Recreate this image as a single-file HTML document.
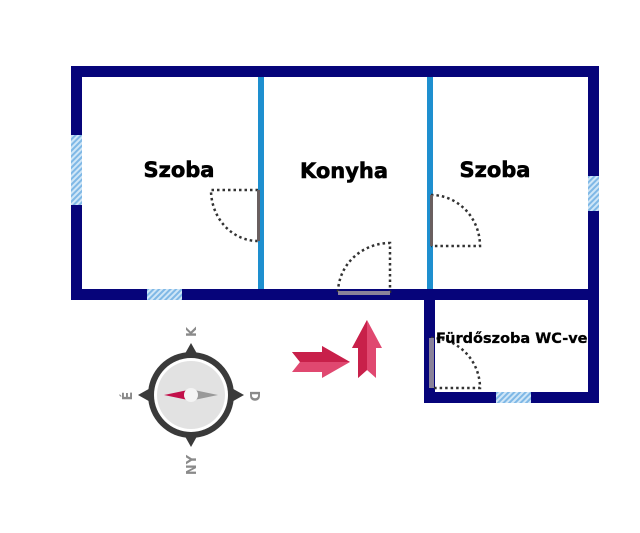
<!DOCTYPE html>
<html><head><meta charset="utf-8"><style>
html,body{margin:0;padding:0;background:#fff;}
svg{display:block;}
text{font-family:"DejaVu Sans","Liberation Sans",sans-serif;font-weight:bold;}
</style></head><body>
<svg width="640" height="533" viewBox="0 0 640 533" xmlns="http://www.w3.org/2000/svg">
<defs>
<pattern id="h" width="4" height="4" patternUnits="userSpaceOnUse" patternTransform="rotate(45)">
<rect width="4" height="4" fill="#cfe6f7"/><rect width="2" height="4" fill="#7fb8e6"/>
</pattern>
</defs>
<rect x="258" y="72" width="6" height="222" fill="#1e8fcf"/>
<rect x="427" y="72" width="6" height="222" fill="#1e8fcf"/>
<g fill="#06047a">
<rect x="71" y="66" width="528" height="11" rx="3"/>
<rect x="71" y="66" width="11" height="234"/>
<rect x="588" y="66" width="11" height="337"/>
<rect x="71" y="289" width="528" height="11"/>
<rect x="424" y="289" width="11" height="114"/>
<rect x="424" y="392" width="175" height="11"/>
</g>
<rect x="71" y="135" width="11" height="70" fill="url(#h)"/>
<rect x="588" y="176" width="11" height="35" fill="url(#h)"/>
<rect x="147" y="289" width="35" height="11" fill="url(#h)"/>
<rect x="496" y="392" width="35" height="11" fill="url(#h)"/>
<g fill="none" stroke="#333" stroke-width="2.5" stroke-dasharray="2.5,3">
<path d="M258 190 H211 A47 51 0 0 0 258 241"/>
<path d="M390 293 V243 A52 50 0 0 0 338 293"/>
<path d="M431 195 A49 51 0 0 1 480 246 H431"/>
<path d="M431 338 A49 50 0 0 1 480 388 H431"/>
</g>
<rect x="257" y="190" width="3" height="51" fill="#6a5f5f"/>
<rect x="338" y="291" width="52" height="4" fill="#8a8299"/>
<rect x="430" y="195" width="3" height="51" fill="#6a5f5f"/>
<rect x="429" y="338" width="5" height="50" fill="#8a8299"/>
<g stroke="#000" stroke-width="0.6">
<text x="179" y="177" font-size="21" text-anchor="middle">Szoba</text>
<text x="344" y="178" font-size="21" text-anchor="middle">Konyha</text>
<text x="495" y="177" font-size="21" text-anchor="middle">Szoba</text>
</g>
<svg x="435" y="320" width="153" height="40"><text x="1" y="23" font-size="14.5" stroke="#000" stroke-width="0.3">Fürdőszoba WC-vel</text></svg>
<g transform="translate(191,395)">
<polygon points="0,-52 9,-36 -9,-36" fill="#3a3a3a"/>
<polygon points="0,52 9,36 -9,36" fill="#3a3a3a"/>
<polygon points="-53,0 -37,9 -37,-9" fill="#3a3a3a"/>
<polygon points="53,0 37,9 37,-9" fill="#3a3a3a"/>
<circle r="43" fill="#3a3a3a"/>
<circle r="37" fill="#fff"/>
<circle r="34" fill="#e2e2e2"/>
<polygon points="-27,0 -3,-5 -3,5" fill="#c2104a"/>
<polygon points="27,0 3,-5 3,5" fill="#999"/>
<circle r="7" fill="#f4f4f4"/>
</g>
<g fill="#8a8a8a" font-size="13">
<text transform="translate(196,332) rotate(-90)" text-anchor="middle">K</text>
<text transform="translate(132,396) rotate(-90)" text-anchor="middle">É</text>
<text transform="translate(250,396) rotate(90)" text-anchor="middle">D</text>
<text transform="translate(196,465) rotate(-90)" text-anchor="middle">NY</text>
</g>
<polygon points="292,352 322,352 322,346 350,362 322,378 322,372 292,372 300,362" fill="#e04870"/>
<polygon points="292,352 322,352 322,346 350,362 300,362" fill="#c8204a"/>
<polygon points="367,320 382,348 376,348 376,378 367,370 358,378 358,348 352,348" fill="#e04870"/>
<polygon points="367,320 352,348 358,348 358,378 367,370" fill="#c8204a"/>
</svg>
</body></html>
